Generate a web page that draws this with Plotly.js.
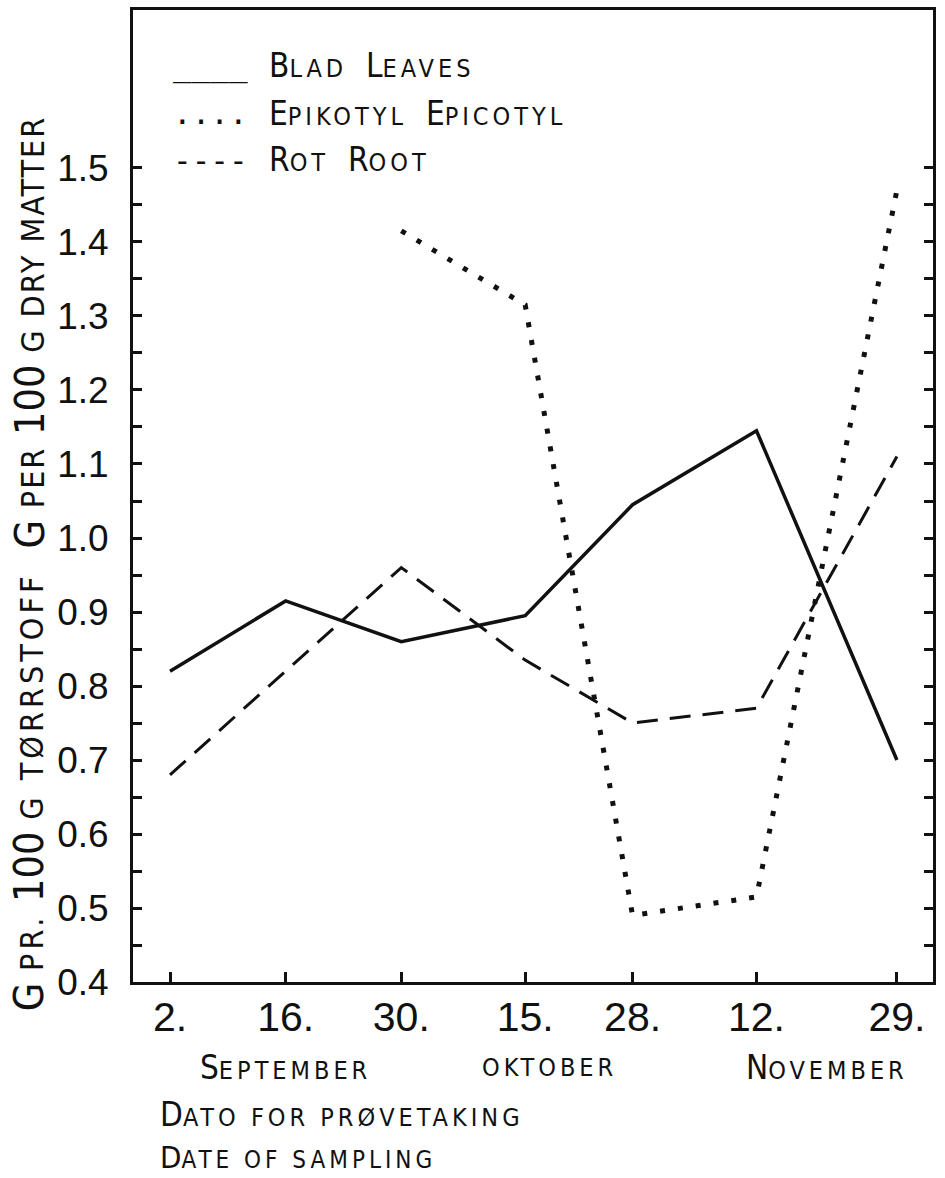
<!DOCTYPE html>
<html>
<head>
<meta charset="utf-8">
<script src="https://cdn.plot.ly/plotly-3.0.1.min.js"></script>
<style>
  html, body { margin: 0; padding: 0; background: #ffffff; }
  #chart { width: 945px; height: 1178px; }
</style>
</head>
<body>
<div id="chart"></div>
<script>
// Sampling dates, counted in days from 31 August (2 Sep = 2 ... 29 Nov = 90)
const sampleDay = [2, 16, 30, 45, 58, 73, 90];
const dayLabels = ['2.', '16.', '30.', '15.', '28.', '12.', '29.'];

// g per 100 g dry matter
const bladLeaves       = [0.82, 0.915, 0.86, 0.895, 1.045, 1.145, 0.70];
const epikotylEpicotyl = [null, null, 1.415, 1.315, 0.49, 0.515, 1.47];
const rotRoot          = [0.68, 0.82, 0.96, 0.835, 0.75, 0.77, 1.11];

const yTickLabels = ['0.4', '0.5', '0.6', '0.7', '0.8', '0.9', '1.0', '1.1', '1.2', '1.3', '1.4', '1.5'];

const INK = '#111111';
const TEXT_FONT = "'Liberation Sans Narrow', 'DejaVu Sans Condensed', 'Liberation Sans', sans-serif";
const MONO = "'DejaVu Sans Mono', 'Liberation Mono', monospace";

// small-caps helper: first letter large, the rest as smaller capitals
function sc(big, small, size, spacing) {
  return big + '<span style="font-size:' + size + 'px;letter-spacing:' + spacing + 'px">' + small + '</span>';
}

const yTickValues = yTickLabels.map(Number);
const yMinorValues = yTickValues.slice(0, -1).map(v => +(v + 0.05).toFixed(2));

const traces = [
  {
    name: 'Blad Leaves', x: sampleDay, y: bladLeaves, type: 'scatter', mode: 'lines',
    line: { color: INK, width: 3.5 }, hoverinfo: 'skip'
  },
  {
    name: 'Epikotyl Epicotyl', x: sampleDay, y: epikotylEpicotyl, type: 'scatter', mode: 'lines',
    connectgaps: false,
    line: { color: INK, width: 5, dash: '5px,13px' }, hoverinfo: 'skip'
  },
  {
    name: 'Rot Root', x: sampleDay, y: rotRoot, type: 'scatter', mode: 'lines',
    line: { color: INK, width: 3, dash: '21px,12px' }, hoverinfo: 'skip'
  }
];

const annFont = (size) => ({ family: TEXT_FONT, size: size, color: INK });

const legendRows = [
  { sym: '____', label: sc('B', 'LAD', 25, 4) + '  ' + sc('L', 'EAVES', 25, 4), y: 0.9434 },
  { sym: '....', label: sc('E', 'PIKOTYL', 25, 4) + '  ' + sc('E', 'PICOTYL', 25, 4), y: 0.894 },
  { sym: '----', label: sc('R', 'OT', 25, 4) + '  ' + sc('R', 'OOT', 25, 4), y: 0.8457 }
];

const annotations = [];
legendRows.forEach(r => {
  annotations.push({
    xref: 'paper', yref: 'paper', x: 0.048, y: r.y, xanchor: 'left', yanchor: 'middle',
    text: r.sym, showarrow: false, font: { family: MONO, size: 31, color: INK }
  });
  annotations.push({
    xref: 'paper', yref: 'paper', x: 0.1675, y: r.y, xanchor: 'left', yanchor: 'middle',
    text: r.label, showarrow: false, font: annFont(33)
  });
});

// month names under the day ticks
annotations.push(
  { xref: 'x', yref: 'paper', x: 16, y: -0.0875, xanchor: 'center', yanchor: 'middle',
    text: sc('S', 'EPTEMBER', 25, 4), showarrow: false, font: annFont(33) },
  { xref: 'x', yref: 'paper', x: 48, y: -0.0875, xanchor: 'center', yanchor: 'middle',
    text: '<span style="font-size:25px;letter-spacing:4px">OKTOBER</span>', showarrow: false, font: annFont(33) },
  { xref: 'x', yref: 'paper', x: 81.5, y: -0.0875, xanchor: 'center', yanchor: 'middle',
    text: sc('N', 'OVEMBER', 25, 4), showarrow: false, font: annFont(33) },
  { xref: 'paper', yref: 'paper', x: 0.031, y: -0.1368, xanchor: 'left', yanchor: 'middle',
    text: sc('D', 'ATO FOR PRØVETAKING', 25, 4), showarrow: false, font: annFont(33) },
  { xref: 'paper', yref: 'paper', x: 0.031, y: -0.1805, xanchor: 'left', yanchor: 'middle',
    text: sc('D', 'ATE OF SAMPLING', 24, 4), showarrow: false, font: annFont(31) }
);

// vertical axis title in two languages
annotations.push(
  { xref: 'paper', yref: 'paper', x: -0.129, y: 0.196, xanchor: 'center', yanchor: 'middle', textangle: -90,
    text: 'G <span style="font-size:32px;letter-spacing:4px">PR.</span> 100 <span style="font-size:32px;letter-spacing:4px">G TØRRSTOFF</span>',
    showarrow: false, font: annFont(41) },
  { xref: 'paper', yref: 'paper', x: -0.129, y: 0.669, xanchor: 'center', yanchor: 'middle', textangle: -90,
    text: 'G <span style="font-size:32px;letter-spacing:2px">PER</span> 100 <span style="font-size:32px;letter-spacing:2px">G DRY MATTER</span>',
    showarrow: false, font: annFont(41) }
);

const layout = {
  width: 945, height: 1178,
  margin: { l: 133, r: 12, t: 10, b: 196, pad: 0 },
  paper_bgcolor: '#ffffff', plot_bgcolor: '#ffffff',
  showlegend: false,
  xaxis: {
    range: [-2.48, 94.37],
    tickmode: 'array', tickvals: sampleDay, ticktext: dayLabels,
    ticks: 'inside', ticklen: 10, tickwidth: 3, tickcolor: INK,
    showline: true, linecolor: INK, linewidth: 3, mirror: true,
    showgrid: false, zeroline: false,
    tickfont: { family: "'Liberation Sans', Arial, sans-serif", size: 41, color: INK },
    ticklabelstandoff: -3
  },
  yaxis: {
    range: [0.4, 1.7135],
    tickmode: 'array', tickvals: yTickValues, ticktext: yTickLabels,
    ticks: 'inside', ticklen: 9, tickwidth: 3, tickcolor: INK,
    minor: { tickmode: 'array', tickvals: yMinorValues, ticks: 'inside', ticklen: 9, tickwidth: 3, tickcolor: INK, showgrid: false },
    showline: true, linecolor: INK, linewidth: 3, mirror: 'ticks',
    showgrid: false, zeroline: false,
    tickfont: { family: "'Liberation Sans', Arial, sans-serif", size: 37, color: INK },
    ticklabelstandoff: 14
  },
  annotations: annotations
};

Plotly.newPlot('chart', traces, layout, { staticPlot: true, displayModeBar: false });
</script>
</body>
</html>
